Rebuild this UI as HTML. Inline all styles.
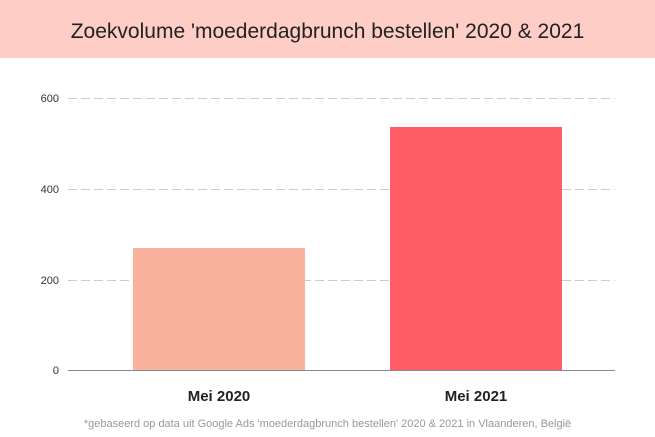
<!DOCTYPE html>
<html><head><meta charset="utf-8"><style>
body{margin:0;width:655px;height:437px;background:#fff;overflow:hidden;font-family:"Liberation Sans",sans-serif}
</style></head><body>
<svg width="655" height="437" xmlns="http://www.w3.org/2000/svg" style="position:absolute;left:0;top:0">
<rect x="0" y="0" width="655" height="58" fill="#fdcdc6"/>
<text x="327.5" y="38" text-anchor="middle" font-size="21" fill="#222" font-family="Liberation Sans, sans-serif">Zoekvolume 'moederdagbrunch bestellen' 2020 &amp; 2021</text>
<g stroke="#ccc" stroke-width="1" stroke-dasharray="9,4">
<line x1="68" y1="98.5" x2="615" y2="98.5"/>
<line x1="68" y1="189.5" x2="615" y2="189.5"/>
<line x1="68" y1="280.5" x2="615" y2="280.5"/>
</g>
<rect x="133" y="248" width="172" height="122" fill="#f9b29e"/>
<rect x="390" y="127" width="172" height="243" fill="#ff5c67"/>
<line x1="68" y1="370.5" x2="615" y2="370.5" stroke="#888" stroke-width="1"/>
<g font-size="11" fill="#333" text-anchor="end">
<text x="59" y="102">600</text>
<text x="59" y="193">400</text>
<text x="59" y="284">200</text>
<text x="59" y="374">0</text>
</g>
<text x="219" y="401" text-anchor="middle" font-size="15" font-weight="bold" fill="#222">Mei 2020</text>
<text x="476" y="401" text-anchor="middle" font-size="15" font-weight="bold" fill="#222">Mei 2021</text>
<text x="327.5" y="427" text-anchor="middle" font-size="11" fill="#999">*gebaseerd op data uit Google Ads 'moederdagbrunch bestellen' 2020 &amp; 2021 in Vlaanderen, België</text>
</svg>
</body></html>
